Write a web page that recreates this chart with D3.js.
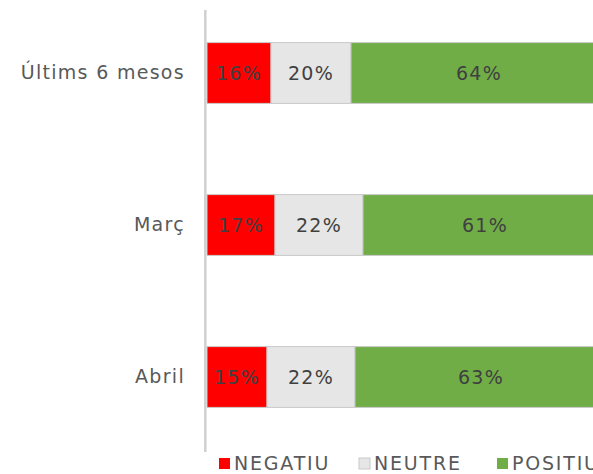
<!DOCTYPE html>
<html><head><meta charset="utf-8">
<script src="https://cdn.jsdelivr.net/npm/d3@7"></script>
<style>body{margin:0;background:#fff} svg{display:block}</style>
</head><body><svg id="c" width="593" height="474"></svg>
<script>
const categories = ["Últims 6 mesos", "Març", "Abril"];
const negatiu = [16, 17, 15];
const neutre = [20, 22, 22];
const positiu = [64, 61, 63];
const seriesNames = ["NEGATIU", "NEUTRE", "POSITIU"];
const colors = ["#ff0000", "#e7e6e6", "#70ad47"];

const FONT = "'DejaVu Sans', sans-serif";
const svg = d3.select("#c");
const x = d3.scaleLinear().domain([0, 100]).range([207, 607]);
const y = d3.scaleBand().domain(categories).range([-3, 453]).paddingInner(0.6).paddingOuter(0.3);

const rows = categories.map((c, i) => ({cat: c, NEGATIU: negatiu[i], NEUTRE: neutre[i], POSITIU: positiu[i]}));
const stacked = d3.stack().keys(seriesNames)(rows);
const color = d3.scaleOrdinal().domain(seriesNames).range(colors);

const g = svg.selectAll("g.series").data(stacked).join("g").attr("class", "series");
g.selectAll("rect").data(d => d.map(p => ({p, key: d.key}))).join("rect")
  .attr("x", d => x(d.p[0]))
  .attr("width", d => x(d.p[1]) - x(d.p[0]))
  .attr("y", d => y(d.p.data.cat))
  .attr("height", y.bandwidth())
  .attr("fill", d => color(d.key))
  .attr("stroke", "#c9c9c9")
  .attr("stroke-width", 1);

g.selectAll("text").data(d => d.map(p => ({p, key: d.key}))).join("text")
  .attr("x", d => (x(d.p[0]) + x(d.p[1])) / 2)
  .attr("y", d => y(d.p.data.cat) + y.bandwidth() / 2)
  .attr("dy", "0.36em")
  .attr("text-anchor", "middle")
  .attr("font-family", FONT)
  .attr("font-size", 19)
  .attr("letter-spacing", 1.2)
  .attr("fill", "#404040")
  .text(d => (d.p[1] - d.p[0]) + "%");

// axis
const ax = svg.append("g").attr("transform", "translate(205,0)")
  .call(d3.axisLeft(y).tickSize(0).tickPadding(20));
ax.select(".domain").remove();
ax.selectAll("text").attr("font-family", FONT).attr("font-size", 19)
  .attr("letter-spacing", 1.3).attr("fill", "#595959");
svg.append("line").attr("x1", 205.3).attr("x2", 205.3).attr("y1", 10).attr("y2", 452)
  .attr("stroke", "#d0d0d0").attr("stroke-width", 2.5);

// legend
const legX = [219, 359, 497];
const leg = svg.selectAll("g.leg").data(seriesNames).join("g").attr("class", "leg")
  .attr("transform", (d, i) => `translate(${legX[i]},0)`);
leg.append("rect").attr("x", 0).attr("y", 458).attr("width", 11).attr("height", 11)
  .attr("fill", d => color(d)).attr("stroke", (d,i) => i === 1 ? "#c9c9c9" : "none");
leg.append("text").attr("x", 15).attr("y", 470)
  .attr("font-family", FONT).attr("font-size", 19).attr("letter-spacing", 1.8).attr("fill", "#595959")
  .text(d => d);
</script></body></html>
